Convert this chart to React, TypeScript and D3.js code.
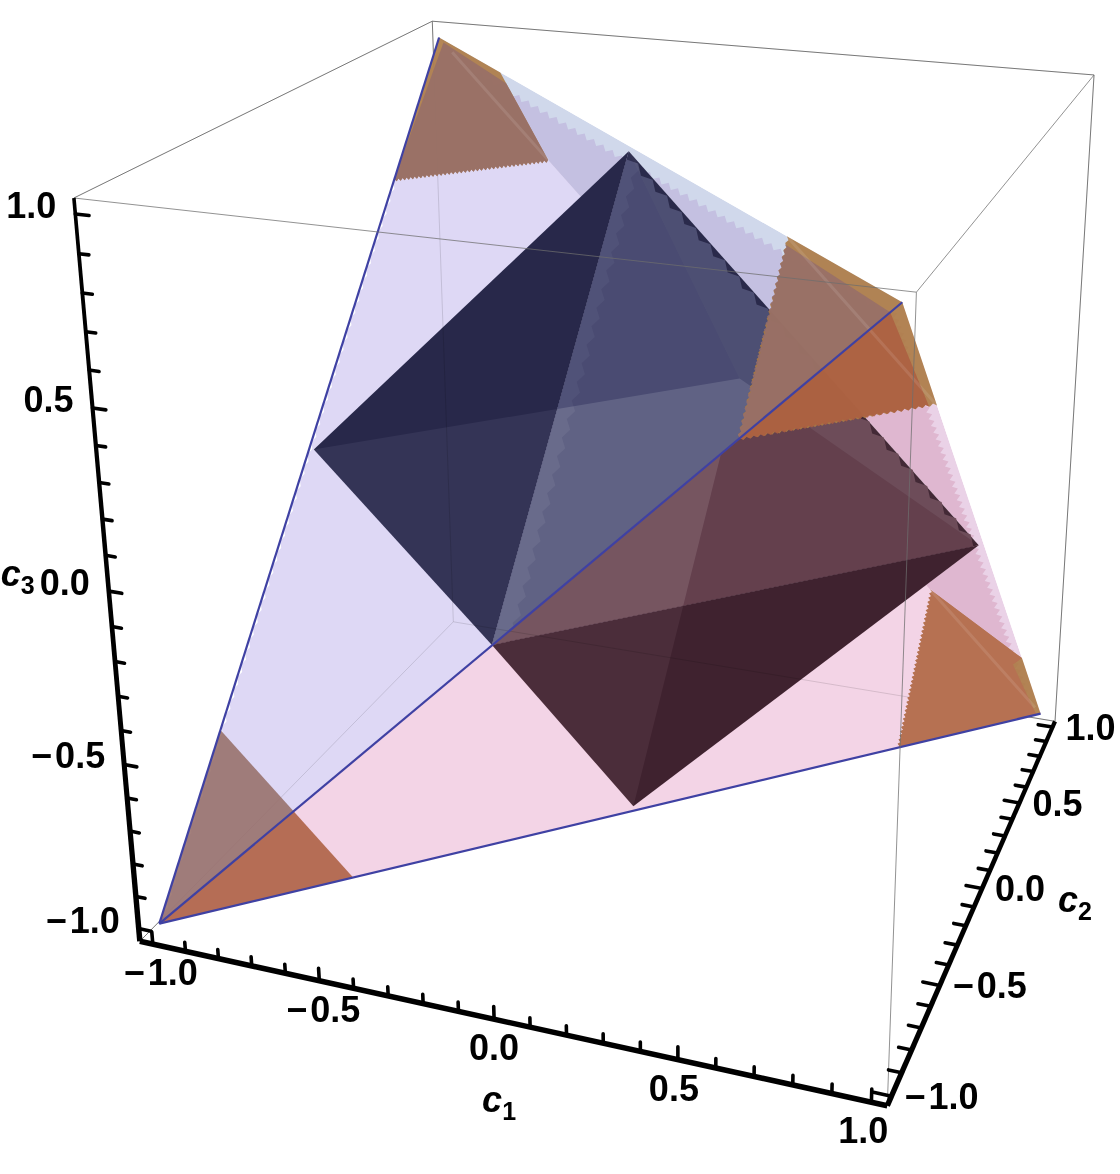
import React from "react";
import * as d3 from "d3";

type V3 = number[];
type P2 = [number, number];

// ---- data (chart coordinates) ----
const boxHalf = 1.04;
const octaRadius = 0.985;
const tetraVertices: Record<string, V3> = { A: [-1, -1, -1], B: [1, 1, -1], C: [1, -1, 1], D: [-1, 1, 1] };
const O = octaRadius;
const octaVertices: Record<string, V3> = {
  xm: [-O, 0, 0], xp: [O, 0, 0], ym: [0, -O, 0], yp: [0, O, 0], zm: [0, 0, -O], zp: [0, 0, O],
};
const cornerFractions: Record<string, number> = { A: 0.195, B: 0.185, C: 0.187, D: 0.18 };
const tickValues = d3.range(-10, 11).map((i) => i / 10);
const majorValues = [-1, -0.5, 0, 0.5, 1];
const majorLabels = ["\u2212\u200a1.0", "\u2212\u200a0.5", "0.0", "0.5", "1.0"];

// camera calibration: chart point -> picture point
const R = boxHalf;
const calibration: [V3, P2][] = [
  [[-R, -R, -R], [138, 942]], [[R, -R, -R], [886, 1102]], [[R, R, -R], [1057, 723]], [[-R, R, -R], [453, 619]],
  [[-R, -R, R], [73, 198]], [[R, -R, R], [920, 291]], [[R, R, R], [1088, 72]], [[-R, R, R], [433, 21]],
  [[-1, -1, -1], [161, 922]], [[1, 1, -1], [1041, 715]], [[1, -1, 1], [905, 302]], [[-1, 1, 1], [439, 38]],
  [[0, 0, O], [630, 153]], [[0, 0, -O], [632, 808]], [[-O, 0, 0], [314, 451]], [[O, 0, 0], [978, 547]],
  [[0, -O, 0], [489, 647]], [[0, O, 0], [743, 378]],
];

function solveCamera(): number[] {
  const n = 11;
  const M = d3.range(n).map(() => new Array(n + 1).fill(0));
  const add = (row: number[], rhs: number) => {
    for (let i = 0; i < n; i++) {
      for (let j = 0; j < n; j++) M[i][j] += row[i] * row[j];
      M[i][n] += row[i] * rhs;
    }
  };
  for (const [[x, y, z], [px, py]] of calibration) {
    const u = px / 1000, v = py / 1000;
    add([x, y, z, 1, 0, 0, 0, 0, -u * x, -u * y, -u * z], u);
    add([0, 0, 0, 0, x, y, z, 1, -v * x, -v * y, -v * z], v);
  }
  for (let c = 0; c < n; c++) {
    let best = c;
    for (let r = c + 1; r < n; r++) if (Math.abs(M[r][c]) > Math.abs(M[best][c])) best = r;
    [M[c], M[best]] = [M[best], M[c]];
    for (let r = 0; r < n; r++) {
      if (r === c) continue;
      const f = M[r][c] / M[c][c];
      for (let k = c; k <= n; k++) M[r][k] -= f * M[c][k];
    }
  }
  return d3.range(n).map((i) => M[i][n] / M[i][i]);
}
const cam = solveCamera();
const project = ([x, y, z]: V3): P2 => {
  const w = cam[8] * x + cam[9] * y + cam[10] * z + 1;
  return [
    (1000 * (cam[0] * x + cam[1] * y + cam[2] * z + cam[3])) / w,
    (1000 * (cam[4] * x + cam[5] * y + cam[6] * z + cam[7])) / w,
  ];
};
const mix = (a: V3, b: V3, t: number): V3 => a.map((v, i) => v + (b[i] - v) * t);
const lineGen = d3.line<P2>();

// polygon in chart coords; each vertex may carry the number of teeth on the edge that leaves it
type PV = { p: V3; teeth?: number; amp?: number };
function polyPath(vs: PV[]): string {
  const out: P2[] = [];
  vs.forEach((v, i) => {
    const a = project(v.p);
    const b = project(vs[(i + 1) % vs.length].p);
    out.push(a);
    if (v.teeth) {
      const dx = b[0] - a[0], dy = b[1] - a[1];
      const len = Math.hypot(dx, dy);
      const amp = v.amp ?? 2;
      const nx = -dy / len, ny = dx / len;
      for (let k = 1; k < 2 * v.teeth; k++) {
        const t = k / (2 * v.teeth);
        const o = k % 2 ? amp : 0;
        out.push([a[0] + dx * t + nx * o, a[1] + dy * t + ny * o]);
      }
    }
  });
  return lineGen(out) + "Z";
}
const tri = (...ps: V3[]) => polyPath(ps.map((p) => ({ p })));
function tapered(p0: V3, p1: V3, w0: number, w1: number): string {
  const a = project(p0), b = project(p1);
  const len = Math.hypot(b[0] - a[0], b[1] - a[1]);
  const nx = -(b[1] - a[1]) / len, ny = (b[0] - a[0]) / len;
  return lineGen([
    [a[0] + (nx * w0) / 2, a[1] + (ny * w0) / 2], [b[0] + (nx * w1) / 2, b[1] + (ny * w1) / 2],
    [b[0] - (nx * w1) / 2, b[1] - (ny * w1) / 2], [a[0] - (nx * w0) / 2, a[1] - (ny * w0) / 2],
  ] as P2[]) + "Z";
}

const { A, B, C, D } = tetraVertices;
const { xm, xp, ym, yp, zm, zp } = octaVertices;
const cp = (v: V3, w: V3, key: string) => mix(v, w, cornerFractions[key]);

const multiply: React.CSSProperties = { mixBlendMode: "multiply" };
const BROWN = "rgb(150,110,105)";
const ORANGE = "rgb(172,95,65)";
const STRIP = "rgb(172,122,68)";

export default function App() {
  // box edges
  const c = (a: number, b: number, d: number): V3 => [a * R, b * R, d * R];
  const backEdges: [V3, V3][] = [
    [c(-1, 1, 1), c(-1, -1, 1)], [c(-1, 1, 1), c(1, 1, 1)], [c(-1, 1, 1), c(-1, 1, -1)],
    [c(-1, 1, -1), c(-1, -1, -1)], [c(-1, 1, -1), c(1, 1, -1)], [c(1, 1, 1), c(1, 1, -1)],
  ];
  const frontEdges: [V3, V3][] = [
    [c(-1, -1, 1), c(1, -1, 1)], [c(1, -1, 1), c(1, 1, 1)], [c(1, -1, 1), c(1, -1, -1)],
  ];
  const edgeLine = ([a, b]: [V3, V3]) => lineGen([project(a), project(b)]) as string;

  // inset front faces of the tetrahedron
  const e1 = 0.018, e2 = 0.008, e3 = 0.012;
  const lavFace: PV[] = [
    { p: mix(A, C, e2) },
    { p: mix(C, A, e1), teeth: 48, amp: 5 },
    { p: mix(mix(D, A, e1), C, e2), teeth: 70, amp: 3 },
  ];
  const pinkFace: PV[] = [
    { p: A },
    { p: mix(B, A, e3), teeth: 60, amp: 5 },
    { p: mix(C, A, e3) },
  ];

  // corners
  const DA = cp(D, A, "D"), DB = cp(D, B, "D"), DC = cp(D, C, "D");
  const CD = cp(C, D, "C"), CB = cp(C, B, "C"), CA = cp(C, A, "C");
  const BA = cp(B, A, "B"), BD = cp(B, D, "B"), BC = cp(B, C, "B");
  const AD = cp(A, D, "A"), AB = cp(A, B, "A");

  const dEdge = { teeth: 38, amp: 2.5 };
  const cEdge1 = { teeth: 30, amp: 2.5 };
  const cEdge2 = { teeth: 28, amp: 2.5 };
  const bEdge = { teeth: 38, amp: 2.5 };

  const cornerHulls: string[] = [
    polyPath([{ p: D }, { p: DA, ...dEdge }, { p: DB }, { p: DC }]),
    polyPath([{ p: CD }, { p: C }, { p: CB, ...cEdge2 }, { p: CA, ...cEdge1 }]),
    polyPath([{ p: BA, ...bEdge }, { p: BD }, { p: BC }, { p: B }]),
  ];
  const cornerInner: string[] = [
    polyPath([{ p: mix(D, DB, 0.04) }, { p: DA, ...dEdge }, { p: DB }, { p: mix(DC, DB, 0.12) }]),
    polyPath([{ p: mix(CD, CA, 0.04) }, { p: mix(C, CA, 0.07) }, { p: mix(CB, CA, 0.04), ...cEdge2 }, { p: CA, ...cEdge1 }]),
    polyPath([{ p: BA, ...bEdge }, { p: BD }, { p: BC }, { p: mix(BC, BA, 0.07) }, { p: mix(B, BA, 0.03) }]),
    tri(A, AD, AB),
  ];
  const cornerRidges: [V3, V3][] = [[mix(D, DB, 0.12), DB], [CD, CB], [BD, mix(B, BD, 0.05)]];

  // octahedron
  const zpIn = mix(zp, ym, 0.018), xpIn = mix(xp, ym, 0.012);
  const f2Inner: PV[] = [
    { p: ym },
    { p: zpIn, teeth: 24, amp: -6 },
    { p: xpIn },
  ];
  const ridgeStrip: PV[] = [
    { p: ym },
    { p: zp },
    { p: mix(zp, xp, 0.02), teeth: 26, amp: -6 },
    { p: mix(ym, xp, 0.03) },
  ];

  // axes
  const axisC1 = (v: number): V3 => [v, -R, -R];
  const axisC2 = (v: number): V3 => [R, v, -R];
  const axisC3 = (v: number): V3 => [-R, -R, v];
  const isMajor = (v: number) => majorValues.includes(v);
  const tickLine = (a: V3, b: V3) => lineGen([project(a), project(b)]) as string;
  const ticks: string[] = [];
  tickValues.forEach((v) => {
    const l = isMajor(v) ? 0.038 : 0.028;
    ticks.push(tickLine(axisC1(v), [v, -R, -R + l]));
    ticks.push(tickLine(axisC2(v), [R - l * 1.2, v, -R]));
    ticks.push(tickLine(axisC3(v), [-R + l, -R, v]));
  });
  const c1dx = d3.scaleLinear().domain([-1, 1]).range([8, -8]);
  const fontFamily = "'Liberation Sans', Arial, sans-serif";
  const labelStyle = { fontFamily, fontWeight: 700, fontSize: 36, fill: "#000" } as const;

  const axisTitle = (x: number, y: number, sub: string) => (
    <text x={x} y={y} style={labelStyle} fontStyle="italic" fontSize={37}>
      c<tspan fontSize={25} fontStyle="normal" dy={8}>{sub}</tspan>
    </text>
  );
  const t1 = project(axisC1(0)), t2 = project(axisC2(0)), t3 = project(axisC3(0));

  return (
    <svg width={1120} height={1174} style={{ position: "absolute", left: 0, top: 0, display: "block" }}>
      <defs>
        <clipPath id="lavClip"><path d={tri(A, C, D)} /></clipPath>
        <clipPath id="lavInset"><path d={polyPath(lavFace)} /></clipPath>
        <clipPath id="pinkClip"><path d={tri(A, B, C)} /></clipPath>
      </defs>
      <rect width={1120} height={1174} fill="#fff" />

      {/* back box edges */}
      {backEdges.map((e, i) => <path key={i} d={edgeLine(e)} stroke="#8a8a8a" strokeWidth={1} fill="none" />)}

      {/* back faces of tetrahedron */}
      <g clipPath="url(#lavInset)">
        <path d={tri(A, B, D)} fill="rgb(235,243,255)" style={multiply} />
      </g>
      <g clipPath="url(#lavClip)">
        <path d={tri(B, C, D)} fill="rgb(208,216,235)" style={multiply} />
      </g>
      <g clipPath="url(#pinkClip)">
        <path d={tri(A, B, D)} fill="rgb(255,243,255)" style={multiply} />
        <path d={tri(B, C, D)} fill="rgb(234,210,231)" style={multiply} />
      </g>

      {/* front faces of tetrahedron */}
      <path d={polyPath(lavFace)} fill="rgb(241,227,245)" style={multiply} />
      <path d={polyPath(pinkFace)} fill="rgb(243,223,230)" style={multiply} />

      {/* octahedron */}
      <g clipPath="url(#lavClip)">
        <path d={tri(xm, zp, ym)} fill="rgb(52,52,86)" />
        <path d={tri(ym, zp, xp)} fill="rgb(52,52,86)" />
        <path d={polyPath(f2Inner)} fill="rgb(96,98,132)" />
        <path d={polyPath(ridgeStrip)} fill="#fff" fillOpacity={0.06} />
        <path d={tri(yp, xm, zp)} fill="rgb(195,195,220)" style={multiply} />
        <path d={tri(yp, xp, zp)} fill="rgb(205,205,222)" style={multiply} />
      </g>
      <g clipPath="url(#pinkClip)">
        <path d={tri(ym, zp, xp)} fill="rgb(72,46,58)" />
        <path d={polyPath(f2Inner)} fill="rgb(118,85,96)" />
        <path d={tri(ym, xp, zm)} fill="rgb(75,45,58)" />
        <path d={tri(yp, xp, zm)} fill="rgb(215,190,205)" style={multiply} />
        <path d={tri(yp, xp, zp)} fill="rgb(235,228,235)" style={multiply} />
      </g>
      {backEdges.map((e, i) => <path key={i} d={edgeLine(e)} stroke="#000" strokeOpacity={0.12} strokeWidth={1} fill="none" />)}

      {/* corner tetrahedra */}
      {cornerHulls.map((d, i) => <path key={i} d={d} fill={STRIP} fillOpacity={0.9} />)}
      <g clipPath="url(#lavClip)">
        {cornerInner.map((d, i) => <path key={i} d={d} fill={BROWN} fillOpacity={0.88} />)}
      </g>
      <g clipPath="url(#pinkClip)">
        {cornerInner.map((d, i) => <path key={i} d={d} fill={i === 2 ? "rgb(182,110,82)" : ORANGE} fillOpacity={0.88} />)}
      </g>
      {cornerRidges.map((e, i) => <path key={i} d={edgeLine(e)} stroke="#fff" strokeOpacity={0.1} strokeWidth={3} fill="none" />)}

      {/* tetrahedron edges */}
      {[[A, C], [A, D], [A, B]].map((e, i) => (
        <path key={i} d={edgeLine(e as [V3, V3])} stroke="#3f41a3" strokeWidth={2.2} fill="none" />
      ))}

      {/* front box edges */}
      {frontEdges.map((e, i) => <path key={i} d={edgeLine(e)} stroke="#6e6e6e" strokeOpacity={0.75} strokeWidth={1} fill="none" />)}

      {/* axes */}
      <path d={tapered(axisC1(-R), axisC1(R), 5.5, 5.5)} fill="#000" />
      <path d={tapered(axisC2(-R), axisC2(R), 5.5, 4.2)} fill="#000" />
      <path d={tapered(axisC3(-R), axisC3(R), 5.5, 3.6)} fill="#000" />
      {ticks.map((d, i) => <path key={i} d={d} stroke="#000" strokeWidth={3.6} strokeLinecap="round" fill="none" />)}

      {majorValues.map((v, i) => {
        const p1 = project(axisC1(v)), p2 = project(axisC2(v)), p3 = project(axisC3(v));
        return (
          <g key={i} style={labelStyle}>
            <text x={p1[0] + c1dx(v)} y={p1[1] + 41} textAnchor="middle">{majorLabels[i]}</text>
            <text x={p2[0] + 13} y={p2[1] + 13}>{majorLabels[i]}</text>
            <text x={p3[0] - 19} y={p3[1] + 4} textAnchor="end">{majorLabels[i]}</text>
          </g>
        );
      })}
      {axisTitle(t1[0] - 12, t1[1] + 93, "1")}
      {axisTitle(t2[0] + 76, t2[1] + 24, "2")}
      {axisTitle(t3[0] - 108, t3[1] - 5, "3")}
    </svg>
  );
}
